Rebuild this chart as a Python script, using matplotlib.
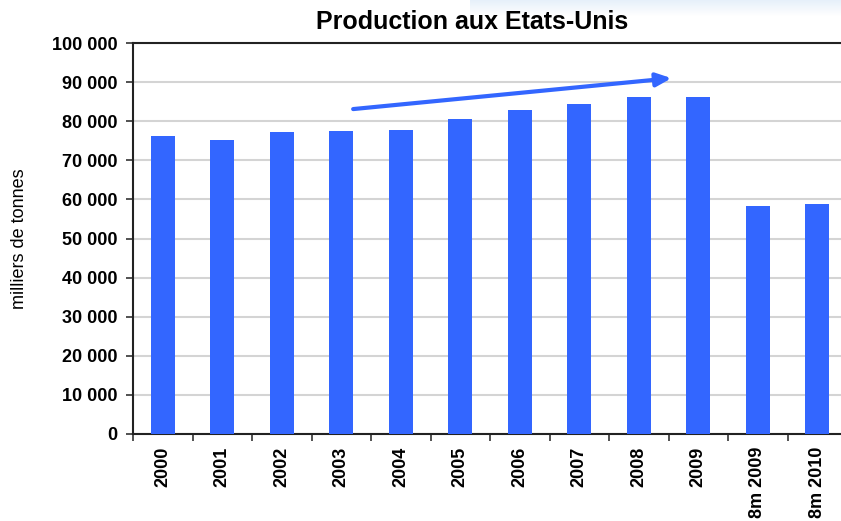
import matplotlib
matplotlib.use("Agg")
import matplotlib.pyplot as plt
import numpy as np

categories = ["2000", "2001", "2002", "2003", "2004", "2005", "2006", "2007",
              "2008", "2009", "8m 2009", "8m 2010"]
production = [76200, 75200, 77200, 77500, 77800, 80600, 82900, 84450,
              86200, 86200, 58300, 58800]
yticks = list(range(0, 100001, 10000))
ytick_labels = ["0" if v == 0 else f"{v // 1000} {v % 1000:03d}" for v in yticks]
title = "Production aux Etats-Unis"
ylabel = "milliers de tonnes"
trend_start = (3.2, 83100)
trend_end = (8.55, 91000)

plt.rcParams['font.family'] = ['Liberation Sans', 'DejaVu Sans']

fig = plt.figure(figsize=(8.41, 5.21), dpi=100)

# light gradient at top right
gax = fig.add_axes([470 / 841, 1 - 16 / 521, 371 / 841, 16 / 521])
grad = np.linspace(0, 1, 50).reshape(-1, 1)
gax.imshow(grad, aspect='auto', cmap=matplotlib.colors.LinearSegmentedColormap.from_list(
    'g', ['#e6f0fa', '#ffffff']), extent=[0, 1, 0, 1])
gax.axis('off')

left = 133 / 841
bottom = 1 - 434 / 521
width = (133 + 12 * 59.5) / 841 - left
height = (434 - 43) / 521
ax = fig.add_axes([left, bottom, width, height])

x = np.arange(len(categories))
ax.bar(x, production, width=0.4, color='#3366FF', zorder=3)

ax.set_ylim(0, 100000)
ax.set_xlim(-0.5, len(categories) - 0.5)
ax.set_yticks(yticks)
ax.set_yticklabels(ytick_labels, fontsize=13, fontweight='bold')
ax.yaxis.grid(True, color='#d4d4d4', linewidth=1.5, zorder=0)
ax.set_axisbelow(True)

ax.set_xticks(x)
ax.set_xticklabels(categories, rotation=90, fontsize=13, fontweight='bold')
ax.tick_params(axis='x', which='major', length=0, pad=9)
ax.set_xticks(np.arange(-0.5, len(categories), 1), minor=True)
ax.tick_params(axis='x', which='minor', length=5, width=1.2, color='#333333')
ax.tick_params(axis='y', length=5, width=1.2, color='#333333', pad=6)

for s in ['left', 'bottom', 'top']:
    ax.spines[s].set_linewidth(1.5)
    ax.spines[s].set_color('#222222')
ax.spines['right'].set_visible(False)

ax.set_ylabel(ylabel, fontsize=13)
ax.yaxis.set_label_coords(-0.147, 0.5)
fig.text(472 / 841, 1 - 22 / 521, title, fontsize=18, fontweight='bold',
         ha='center', va='center')

ax.annotate("", xy=trend_end, xytext=trend_start,
            arrowprops=dict(arrowstyle='-|>,head_length=0.9,head_width=0.4',
                            color='#3366FF', lw=3, shrinkA=0, shrinkB=0),
            zorder=5, annotation_clip=False)

fig.savefig("out.png", dpi=100)
